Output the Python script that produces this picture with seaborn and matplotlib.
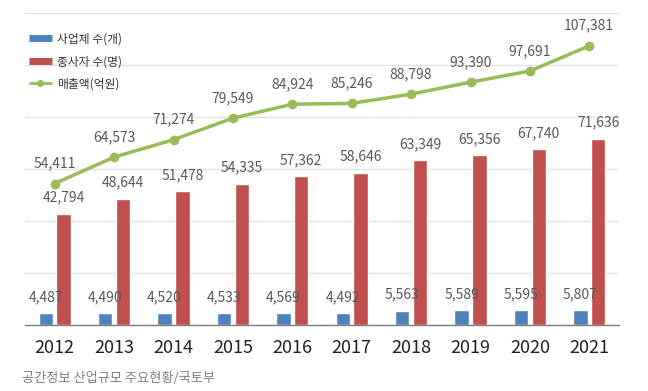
import numpy as np
import pandas as pd
import matplotlib
matplotlib.use("Agg")
import matplotlib.pyplot as plt
from matplotlib.lines import Line2D
import seaborn as sns

# data
years = ["2012", "2013", "2014", "2015", "2016", "2017", "2018", "2019", "2020", "2021"]
companies = [4487, 4490, 4520, 4533, 4569, 4492, 5563, 5589, 5595, 5807]   # 사업체 수(개)
workers = [42794, 48644, 51478, 54335, 57362, 58646, 63349, 65356, 67740, 71636]  # 종사자 수(명)
sales = [54411, 64573, 71274, 79549, 84924, 85246, 88798, 93390, 97691, 107381]  # 매출액(억원)

series_names = ["사업체 수(개)", "종사자 수(명)", "매출액(억원)"]
colors = ["#4f81bd", "#c0504d", "#9bbb59"]

sns.set_theme(style="white")
plt.rcParams["font.family"] = ["Noto Sans CJK KR", "DejaVu Sans"]

bars = pd.DataFrame({
    "year": years * 2,
    "value": companies + workers,
    "series": [series_names[0]] * len(years) + [series_names[1]] * len(years),
})

fig = plt.figure(figsize=(6.48, 3.91), dpi=100)
ax = fig.add_axes([25 / 648, 66 / 391, 594 / 648, 312 / 391])

sns.barplot(data=bars, x="year", y="value", hue="series",
            palette=colors[:2], width=0.6, gap=0.2, ax=ax,
            legend=False, zorder=2, saturation=1)
sns.lineplot(x=np.arange(len(years)), y=sales, color=colors[2], marker="o",
             markersize=7, markeredgewidth=0, linewidth=2.5, ax=ax, zorder=3)

ax.set_xlim(-0.5, len(years) - 0.5)
ax.set_ylim(0, 120000)
ax.set_yticks(np.arange(0, 120001, 20000))
ax.yaxis.grid(True, color="#e3e3e3", linewidth=1)
ax.set_yticklabels([])
ax.tick_params(axis="y", length=0)
ax.set_xlabel("")
ax.set_ylabel("")

for side in ["top", "right", "left"]:
    ax.spines[side].set_visible(False)
ax.spines["bottom"].set_color("#7f7f7f")
ax.spines["bottom"].set_linewidth(1)

ax.tick_params(axis="x", which="major", length=0, labelsize=13,
               labelcolor="#222222", pad=10)
ax.set_xticks(np.arange(-0.5, len(years) + 0.5, 1), minor=True)
ax.tick_params(axis="x", which="minor", length=5, color="#7f7f7f", width=1,
               direction="out")

off = 0.15
lab = dict(textcoords="offset points", ha="center", va="center",
           fontsize=10, color="#595959", zorder=4)
for i in range(len(years)):
    ax.annotate(f"{companies[i]:,}", (i - off, companies[i]), xytext=(0, 11.5), **lab)
    ax.annotate(f"{workers[i]:,}", (i + off, workers[i]), xytext=(0, 11.5), **lab)
    ax.annotate(f"{sales[i]:,}", (i, sales[i]), xytext=(0, 14.5), **lab)

handles = [
    Line2D([], [], color=colors[0], linewidth=5, solid_capstyle="butt"),
    Line2D([], [], color=colors[1], linewidth=5, solid_capstyle="butt"),
    Line2D([], [], color=colors[2], linewidth=2, marker="o", markersize=4,
           solid_capstyle="butt"),
]
fig.legend(handles, series_names, loc="upper left",
           bbox_to_anchor=(18 / 648, 1 - 22 / 391), frameon=False,
           fontsize=8.5, handlelength=2.0, handletextpad=0.4,
           labelspacing=0.8, labelcolor="#333333")

fig.text(22 / 648, 1 - 378 / 391, "공간정보 산업규모 주요현황/국토부",
         fontsize=9.5, color="#808080", va="center", ha="left")

fig.savefig("out.png", dpi=100)
